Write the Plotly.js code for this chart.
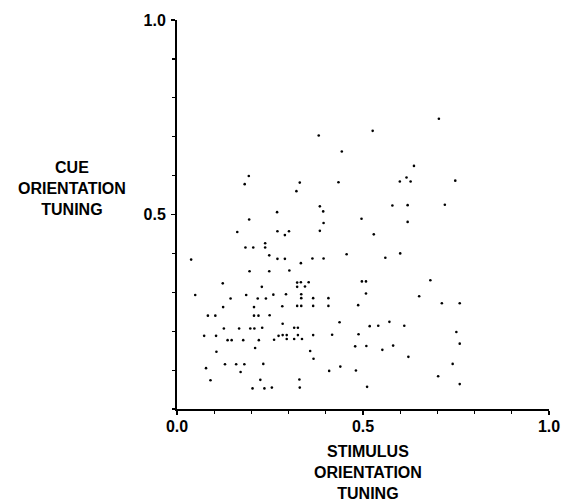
<!DOCTYPE html>
<html>
<head>
<meta charset="utf-8">
<script src="https://cdn.plot.ly/plotly-3.0.1.min.js"></script>
<style>html,body{margin:0;padding:0;background:#fff}#chart{width:562px;height:501px}</style>
</head>
<body>
<div id="chart"></div>
<script>
// Stimulus orientation tuning (x) and cue orientation tuning (y), one entry per cell
const stimulusTuning = [
0.381,0.443,0.193,0.182,0.330,0.434,0.321,0.384,0.393,0.269,
0.194,0.496,0.394,0.704,0.526,0.637,0.617,0.599,0.628,0.748,
0.579,0.620,0.720,0.620,0.162,0.270,0.237,0.184,0.205,0.237,
0.038,0.248,0.270,0.195,0.248,0.123,0.228,0.049,0.144,0.186,
0.217,0.239,0.259,0.124,0.207,0.083,0.103,0.207,0.219,0.249,
0.301,0.290,0.384,0.529,0.456,0.290,0.364,0.394,0.333,0.302,
0.323,0.333,0.354,0.323,0.344,0.497,0.508,0.293,0.334,0.334,
0.366,0.407,0.508,0.283,0.323,0.334,0.366,0.407,0.487,0.126,
0.167,0.197,0.208,0.229,0.073,0.105,0.136,0.147,0.178,0.220,
0.261,0.273,0.210,0.106,0.129,0.159,0.181,0.232,0.078,0.171,
0.090,0.224,0.203,0.235,0.255,0.284,0.437,0.518,0.541,0.315,
0.325,0.284,0.295,0.325,0.366,0.417,0.488,0.295,0.315,0.336,
0.479,0.509,0.358,0.367,0.439,0.409,0.481,0.329,0.511,0.330,
0.600,0.560,0.681,0.651,0.712,0.760,0.571,0.611,0.751,0.760,
0.581,0.552,0.622,0.741,0.702,0.760
];
const cueTuning = [
0.703,0.662,0.599,0.578,0.582,0.583,0.560,0.521,0.508,0.506,
0.487,0.489,0.478,0.746,0.715,0.625,0.595,0.585,0.585,0.587,
0.523,0.524,0.525,0.481,0.455,0.457,0.426,0.415,0.415,0.415,
0.384,0.395,0.386,0.354,0.354,0.323,0.314,0.293,0.284,0.293,
0.284,0.284,0.294,0.262,0.262,0.240,0.240,0.240,0.240,0.241,
0.457,0.447,0.458,0.449,0.398,0.386,0.387,0.387,0.375,0.356,
0.325,0.326,0.326,0.314,0.315,0.328,0.328,0.295,0.295,0.285,
0.285,0.285,0.297,0.264,0.265,0.265,0.265,0.265,0.267,0.207,
0.207,0.207,0.207,0.209,0.188,0.188,0.177,0.177,0.177,0.177,
0.178,0.188,0.157,0.147,0.115,0.115,0.115,0.116,0.105,0.095,
0.074,0.075,0.053,0.053,0.055,0.219,0.223,0.213,0.214,0.209,
0.209,0.190,0.190,0.190,0.190,0.191,0.192,0.180,0.180,0.180,
0.161,0.162,0.149,0.129,0.109,0.098,0.099,0.076,0.057,0.055,
0.400,0.389,0.331,0.290,0.272,0.272,0.224,0.214,0.198,0.168,
0.163,0.152,0.134,0.116,0.084,0.064
];
const xTickVals = [0, 0.5, 1.0];
const xTickText = ["0.0", "0.5", "1.0"];
const yTickVals = [0.5, 1.0];
const yTickText = ["0.5", "1.0"];

const FONT = "Liberation Sans, Arial, Helvetica, sans-serif";

const trace = {
  type: "scatter",
  mode: "markers",
  x: stimulusTuning,
  y: cueTuning,
  marker: {color: "#000", size: 2.6, line: {width: 0}},
  hoverinfo: "skip",
  showlegend: false
};

const axisCommon = {
  range: [0, 1],
  showgrid: false,
  zeroline: false,
  showline: true,
  linecolor: "#000",
  ticks: "outside",
  ticklen: 4,
  tickwidth: 1.2,
  tickcolor: "#000",
  tickmode: "array",
  tickfont: {family: FONT, size: 16, color: "#000", weight: "bold"},
  minor: {dtick: 0.1, tick0: 0, ticks: "outside", ticklen: 3, tickwidth: 1.2, tickcolor: "#000", showgrid: false},
  fixedrange: true
};

const layout = {
  width: 562,
  height: 501,
  margin: {l: 177, r: 13, t: 20, b: 92, pad: 0},
  paper_bgcolor: "#fff",
  plot_bgcolor: "#fff",
  font: {family: FONT, color: "#000"},
  xaxis: Object.assign({}, axisCommon, {tickvals: xTickVals, ticktext: xTickText, linewidth: 1.5, ticklabelstandoff: -2}),
  yaxis: Object.assign({}, axisCommon, {tickvals: yTickVals, ticktext: yTickText, linewidth: 2, ticklabelstandoff: 2}),
  annotations: [
    {
      text: "STIMULUS<br>ORIENTATION<br>TUNING",
      xref: "paper", yref: "paper",
      x: 0.513, y: -0.083, xanchor: "center", yanchor: "top",
      showarrow: false, align: "center",
      font: {family: FONT, size: 16, color: "#000", weight: "bold"}
    },
    {
      text: "CUE<br>ORIENTATION<br>TUNING",
      xref: "paper", yref: "paper",
      x: -0.282, y: 0.566, xanchor: "center", yanchor: "middle",
      showarrow: false, align: "center",
      font: {family: FONT, size: 16, color: "#000", weight: "bold"}
    }
  ]
};

Plotly.newPlot("chart", [trace], layout, {displayModeBar: false, staticPlot: true});
</script>
</body>
</html>
